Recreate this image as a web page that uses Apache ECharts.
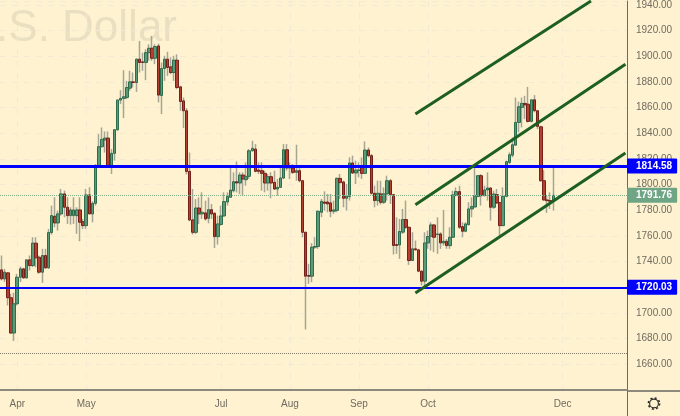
<!DOCTYPE html>
<html>
<head>
<meta charset="utf-8">
<title>U.S. Dollar</title>
<script src="https://cdn.jsdelivr.net/npm/echarts@6/dist/echarts.min.js"></script>
<style>
  html, body { margin: 0; padding: 0; background: #fef2d0; }
  #chart { width: 680px; height: 416px; }
</style>
</head>
<body>
<div id="chart"></div>
<script>
// candles
var opens = [1733.6,1726.6,1731.3,1711.9,1684.4,1707.2,1727.9,1734.4,1727.4,1741.4,1737,1754.4,1743.5,1731.8,1744.8,1735.2,1762.7,1775.4,1770.2,1777.2,1792.8,1782.4,1775.9,1775.9,1775.9,1780.3,1771.2,1768.1,1792,1777.2,
  1785.5,1814.8,1829.6,1834.8,1836.3,1814.8,1824.4,1842.8,1865.9,1867.2,1868,1875.2,1880.1,1879.6,1897.8,1895.7,1895.2,1902.9,1906.3,1898.5,1908.1,1869.5,1890.5,1897.8,1891.8,1887.4,1897,1876.2,1865.3,1857.6,
  1810.4,1772.5,1762.9,1781.8,1777.2,1778,1773.8,1780.5,1777.7,1759.5,1769,1775.6,1786.5,1790.2,1795.3,1802.3,1801.3,1807.5,1803.9,1806.5,1826.4,1827.7,1811.4,1810.9,1808.8,1801.3,1806.2,1801.8,1796.6,1797.9,
  1805.2,1827.2,1813,1813,1809.6,1810.9,1803.1,1762.9,1729.2,1728.7,1751.3,1751.8,1778.5,1786.5,1786.5,1785.8,1779.3,1780,1804.9,1802.1,1789.4,1790.7,1816.9,1809.1,1811,1813.5,1808.8,1827,1822.6,1793.3,
  1787.6,1792.8,1786.3,1792.8,1803.1,1792.2,1753.3,1753,1763,1772.8,1766.8,1740.9,1750,1749.2,1732.6,1724.8,1754.6,1759.8,1768.6,1761.1,1761.6,1754.6,1755.9,1752.5,1759,1791.5,1794.6,1767.3,1763.7,1768.9,
  1781.1,1782.6,1790.9,1807,1791.4,1795.9,1797.4,1782.4,1792.2,1786,1768.1,1790.9,1817.4,1823,1830.8,1848.5,1860.2,1863.3,1862.7,1849.3,1866.1,1857.6,1845.1,1803.1,1788.1,1787.6,1787.6];
var closes = [1726.6,1731.8,1711.9,1684.4,1707.2,1727.9,1734.4,1727.4,1741.4,1737,1754.4,1743,1731.8,1744.8,1735.2,1762.7,1775.9,1770.2,1777.2,1792.8,1782.4,1775.9,1780.3,1780.3,1780.3,1770.7,1768.1,1792,1777.2,1785.5,
  1814.8,1829.6,1835.3,1836.3,1814.8,1824.4,1842.8,1865.9,1867.2,1868.5,1875.7,1880.1,1879.6,1897.8,1895.2,1895.2,1902.9,1906.3,1898.5,1907.6,1869.8,1890.5,1897.8,1891.3,1887.4,1897,1875.7,1864.8,1857.6,1810.3,
  1772.5,1762.9,1781.8,1777.2,1778.5,1773.3,1780.5,1777.2,1759.5,1769.4,1775.6,1786.8,1790.7,1795.8,1802.3,1801.3,1807.5,1804.4,1806.5,1826.4,1828.3,1810.4,1810.4,1808.8,1801.3,1806.2,1801.3,1796.6,1797.9,1805.2,
  1827.2,1813,1814.8,1809.6,1810.9,1803.1,1762.9,1728.7,1728.7,1751.3,1751.8,1779.3,1787,1785.5,1785,1779.3,1780.3,1804.9,1801.6,1789.4,1791.2,1816.9,1809.1,1811.4,1811.4,1808.8,1827,1822.6,1793.3,1787.6,
  1793.3,1786.3,1792.8,1803.1,1792.2,1752.6,1752.6,1763.5,1772.8,1766.8,1740.9,1750,1749.2,1732.6,1724.8,1754.6,1759.6,1768.6,1759,1761.6,1754.6,1755.9,1752.5,1759,1792,1794.6,1766.8,1763.7,1769.4,1781.1,
  1782.9,1791.4,1807,1791.4,1795.9,1797.4,1782.4,1792.7,1785.7,1768.1,1790.9,1817.9,1823.3,1831.1,1848.5,1860.7,1863.3,1862.2,1849.3,1866.1,1857.6,1845.4,1803.1,1788.1,1787.6,1787.1,1791.76];
var highs = [1744.8,1734.4,1731.8,1715,1715.8,1730.5,1736.2,1735.2,1741.8,1744.8,1759.1,1759.1,1744.8,1750,1750,1765.5,1783.7,1790.2,1779.8,1796.7,1795.4,1790.2,1782.4,1790.2,1782.4,1790.2,1773.3,1796.7,1798,1787.1,
  1816.1,1839.4,1844.6,1841.5,1841.5,1827.8,1843.3,1866.6,1873.6,1889.2,1880.9,1888.7,1887.4,1898.5,1912,1902.9,1905.5,1909.4,1915.9,1909.4,1909.9,1895.2,1900.4,1903.5,1899.1,1900.4,1901.6,1877,1867.9,1859.6,
  1825.1,1796.6,1788.8,1790.1,1794,1787.5,1790.1,1785,1778.5,1775.9,1783.7,1794,1794,1813.5,1809.6,1818.1,1809.6,1809.6,1817.4,1827.7,1834.2,1831.6,1817.4,1817.4,1810.9,1808.3,1809.6,1810.9,1804.4,1813,
  1831.6,1831.6,1817.4,1816.1,1831.1,1813.5,1803.6,1763.4,1738.3,1754.4,1759,1779.8,1788.9,1794.8,1792.8,1792.8,1787.6,1805.7,1808.3,1803.1,1800.5,1821.3,1822.6,1818.7,1817.4,1821.3,1833.7,1829,1823.9,1799.2,
  1803.1,1803.1,1797.9,1807,1804.4,1792.8,1774.6,1773.3,1781.1,1787.6,1767.3,1762.9,1756.5,1750,1733.1,1762.9,1764.2,1770.7,1769.4,1774.6,1762.9,1780.3,1757.7,1766.8,1795.3,1797.9,1799.2,1770.7,1770.7,1786.3,
  1790.1,1814,1807.5,1808.3,1799.2,1809.6,1797.9,1795.3,1796.6,1786.3,1797.9,1818.7,1825.2,1836.8,1867.9,1864.8,1867.9,1869.2,1876.2,1866.6,1869.8,1858.1,1845.9,1811.4,1791.4,1794,1814];
var lows = [1725.4,1724.1,1705.9,1683.9,1678.2,1705.9,1724.1,1726.6,1726.6,1733.1,1735.7,1735.7,1730.5,1723.5,1734.4,1734.4,1761.1,1766.8,1764.2,1775.9,1774.6,1769.4,1768.9,1769.4,1761.7,1755.9,1765.5,1765.5,1777,1770.7,
  1783.7,1813,1829,1825,1814,1808.3,1818.7,1842,1862.8,1851.9,1866.6,1873.1,1875.7,1872.3,1887.4,1888.7,1881.4,1896.5,1896.5,1893.9,1864.1,1855,1880.9,1884.8,1886.1,1880.9,1874.4,1857.6,1844.1,1808,
  1771.5,1761.1,1761.6,1769.4,1773.3,1772,1769.9,1773.3,1750.7,1753.3,1768.1,1775.1,1783.7,1790,1794,1794,1792.7,1791.4,1799.2,1804.4,1825.9,1809.6,1808.3,1795.3,1794,1795.3,1789.4,1795.8,1791.4,1797.5,
  1804.4,1810.9,1804.4,1808.3,1803.1,1801.8,1759,1687.2,1722.7,1724,1750,1750,1774.6,1779.8,1778.5,1774.6,1777.2,1778.5,1788.9,1782.4,1779.8,1787.6,1808.3,1800.5,1805.7,1804.4,1808.3,1821.3,1792.2,1782.4,
  1783.7,1784.5,1785,1787.6,1785,1745.6,1746.1,1742.2,1761.6,1765.5,1737.5,1740.5,1748.7,1731.8,1721.4,1721.4,1750,1748.7,1747.4,1746.1,1750,1752.5,1750,1750,1758.5,1791,1765.5,1759,1762.9,1768.1,
  1774.6,1782.4,1790.1,1783.7,1790.9,1787.6,1772,1781.1,1785,1760.3,1767.6,1790.1,1816,1821.3,1830.3,1840.7,1844.6,1851.1,1848.5,1848.5,1856.3,1843.3,1802.3,1787.6,1778,1781.1,1779.8];

// where the month labels sit, index of the bar under each one
var monthTicks = { 5: 'Apr', 27: 'May', 70: 'Jul', 92: 'Aug', 114: 'Sep', 136: 'Oct', 179: 'Dec' };
var barSlots = 200;

var resistance = 1814.58;
var support = 1720.03;
var lastPrice = 1791.76;
var lowDotted = 1669;

// channel lines: [bar index, price] start and end
var channelTop = [[132, 1855], [188, 1943.1]];
var channelMid = [[132, 1784.4], [199, 1893.9]];
var channelLow = [[132, 1715.5], [199, 1824.6]];

var bg = '#fef2d0';
var gridColor = '#f3ead6';
var textColor = '#6f6b60';
var wickColor = '#a6a497';
var upFill = '#5a9a78', upEdge = '#2f6c4c';
var downFill = '#b5402f', downEdge = '#76201a';
var channelStyle = { color: '#1d5f22', type: 'solid', width: 3 };

var categories = [];
for (var i = 0; i < barSlots; i++) categories.push(monthTicks[i] || String(i));

var wickData = opens.map(function (o, i) { return [o, closes[i], lows[i], highs[i]]; });
var bodyData = opens.map(function (o, i) {
  var c = closes[i];
  return [o, c, Math.min(o, c), Math.max(o, c)];
});

function isMonth(index) { return monthTicks[index] !== undefined; }

function trend(points) {
  return [
    { coord: points[0], symbol: 'none', lineStyle: channelStyle, label: { show: false } },
    { coord: points[1], symbol: 'none' }
  ];
}
function priceTag(color) {
  return {
    show: true, position: 'end', distance: 0,
    formatter: function (p) { return p.value.toFixed(2); },
    color: '#fff', fontSize: 10, fontWeight: 'bold', fontFamily: 'Liberation Sans',
    backgroundColor: color, borderRadius: 1,
    padding: [3, 5, 2, 9]
  };
}

var myChart = echarts.init(document.getElementById('chart'));
myChart.setOption({
  animation: false,
  backgroundColor: bg,
  grid: { left: 0, top: 0, width: 627, height: 390 },
  xAxis: {
    type: 'category',
    data: categories,
    axisLine: { lineStyle: { color: '#8d897c', width: 2 } },
    axisTick: { show: false, alignWithLabel: true },
    axisLabel: {
      interval: function (index) { return isMonth(index); },
      color: textColor, fontSize: 10, fontFamily: 'Liberation Sans', margin: 9
    },
    splitLine: {
      show: true,
      alignWithLabel: true,
      interval: function (index) { return isMonth(index); },
      lineStyle: { color: gridColor, type: [6, 6] }
    }
  },
  yAxis: {
    type: 'value',
    position: 'right',
    min: 1640,
    max: 1943.11,
    interval: 20,
    axisLine: { show: true, lineStyle: { color: '#6e6a5e' } },
    axisTick: { show: false },
    axisLabel: {
      color: textColor, fontSize: 10, fontFamily: 'Liberation Sans', margin: 9,
      formatter: function (v) {
        if (v === 1640 || v % 20 !== 0) return '';
        return v.toFixed(2);
      }
    },
    splitLine: { show: true, lineStyle: { color: gridColor, type: [6, 6] } }
  },
  graphic: [
    {
      type: 'text', z: 0, x: 177, y: 51,
      style: {
        text: 'U.S. Dollar', fill: '#eadfc1', textAlign: 'right', textVerticalAlign: 'bottom',
        font: '44px "Liberation Sans"'
      }
    },
    { type: 'line', shape: { x1: 627, y1: 391, x2: 680, y2: 391 }, style: { stroke: '#8d897c', lineWidth: 2 } },
    { type: 'line', shape: { x1: 627.5, y1: 390, x2: 627.5, y2: 416 }, style: { stroke: '#6e6a5e', lineWidth: 1 } },
    // settings gear in the corner
    { type: 'circle', shape: { cx: 654, cy: 403.5, r: 4.4 }, style: { fill: 'none', stroke: '#2a2a2a', lineWidth: 1.1 } },
    { type: 'circle', shape: { cx: 654, cy: 403.5, r: 5.6 }, style: { fill: 'none', stroke: '#2a2a2a', lineWidth: 1.6, lineDash: [2, 2.4] } }
  ],
  series: [
    {
      name: 'wicks',
      type: 'candlestick',
      data: wickData,
      barWidth: 1,
      itemStyle: { color: wickColor, color0: wickColor, borderColor: wickColor, borderColor0: wickColor, borderWidth: 1.5 },
      silent: true
    },
    {
      name: 'bodies',
      type: 'candlestick',
      data: bodyData,
      barWidth: 3,
      itemStyle: { color: upFill, color0: downFill, borderColor: upEdge, borderColor0: downEdge, borderWidth: 1 },
      silent: true,
      markLine: {
        silent: true,
        symbol: 'none',
        animation: false,
        label: { show: false },
        data: [
          { yAxis: lowDotted, lineStyle: { color: '#7d7a6c', type: 'dotted', width: 1 }, label: { show: false } },
          { yAxis: lastPrice, lineStyle: { color: '#7fae8c', type: 'dotted', width: 1 }, label: priceTag('#6ea584') },
          { yAxis: resistance, lineStyle: { color: '#0000ff', type: 'solid', width: 3 }, label: priceTag('#0000ff') },
          { yAxis: support, lineStyle: { color: '#0000ff', type: 'solid', width: 2 }, label: priceTag('#0000ff') },
          trend(channelTop),
          trend(channelMid),
          trend(channelLow)
        ]
      }
    }
  ]
});
</script>
</body>
</html>
